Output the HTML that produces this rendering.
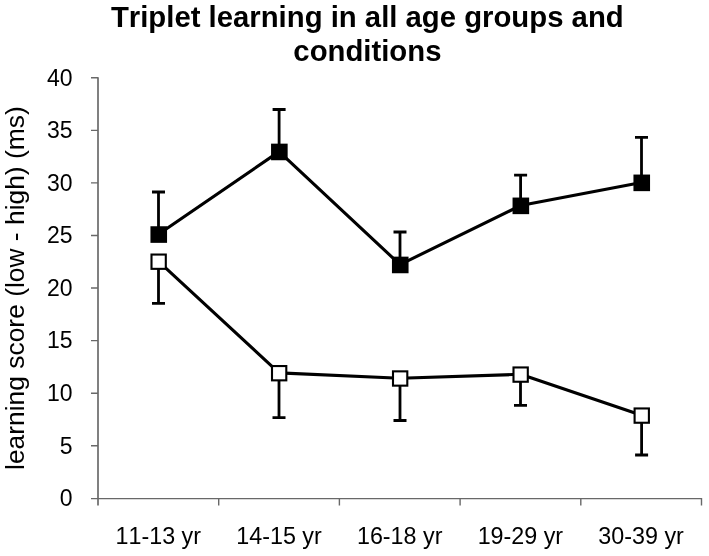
<!DOCTYPE html>
<html><head><meta charset="utf-8"><title>Triplet learning</title>
<style>
html,body{margin:0;padding:0;background:#fff;width:709px;height:556px;overflow:hidden}
svg{display:block;filter:blur(0.35px)}
text{font-family:"Liberation Sans",sans-serif;fill:#000;font-kerning:none}
.t{font-weight:bold;font-size:29.3px}
.yl{font-size:23px}
.xl{font-size:23.3px}
.ya{font-size:26.4px}
</style></head><body>
<svg width="709" height="556" viewBox="0 0 709 556">
<rect width="709" height="556" fill="#fff"/>
<!-- title -->
<text class="t" x="367.3" y="26.8" text-anchor="middle">Triplet learning in all age groups and</text>
<text class="t" x="367.4" y="60.6" text-anchor="middle">conditions</text>
<!-- y axis title -->
<text class="ya" transform="translate(24.3,288.1) rotate(-90)" text-anchor="middle">learning score (low - high) (ms)</text>
<!-- axes -->
<g fill="none">
<path stroke="#808080" stroke-width="2" d="M98,77.3 V505.5"/>
<g stroke="#686868" stroke-width="1.4">
<path d="M91,77.8 H98 M91,130.4 H98 M91,182.9 H98 M91,235.5 H98 M91,288 H98 M91,340.6 H98 M91,393.2 H98 M91,445.8 H98 M91,498.6 H98"/>
<path d="M98,498.6 H701.8 M701.5,498 V505.5"/>
<path d="M218.7,498.6 V505.5 M339.4,498.6 V505.5 M460.1,498.6 V505.5 M580.8,498.6 V505.5"/>
</g>
</g>
<!-- y labels -->
<g class="yl" text-anchor="end">
<text x="72.5" y="85.5">40</text>
<text x="72.5" y="138.1">35</text>
<text x="72.5" y="190.6">30</text>
<text x="72.5" y="243.2">25</text>
<text x="72.5" y="295.8">20</text>
<text x="72.5" y="348.3">15</text>
<text x="72.5" y="400.9">10</text>
<text x="72.5" y="453.5">5</text>
<text x="72.5" y="506.1">0</text>
</g>
<!-- x labels -->
<g class="xl" text-anchor="middle">
<text x="158.3" y="544.2">11-13 yr</text>
<text x="279" y="544.2">14-15 yr</text>
<text x="399.7" y="544.2">16-18 yr</text>
<text x="520.4" y="544.2">19-29 yr</text>
<text x="641.1" y="544.2">30-39 yr</text>
</g>
<!-- error bars -->
<g stroke="#000" stroke-width="2.8" fill="none">
<path d="M158.5,234.2 V192 M152,192 H165"/>
<path d="M279.1,151.6 V109.5 M272.6,109.5 H285.6"/>
<path d="M400,264.6 V232 M393.5,232 H406.5"/>
<path d="M520.6,205.5 V175.1 M514.1,175.1 H527.1"/>
<path d="M641.5,182.5 V137.3 M635,137.3 H648"/>
<path d="M158.5,261.4 V303.4 M152,303.4 H165"/>
<path d="M279,372.9 V417.6 M272.5,417.6 H285.5"/>
<path d="M400,378.2 V420.5 M393.5,420.5 H406.5"/>
<path d="M520.5,374.3 V405.3 M514,405.3 H527"/>
<path d="M641.6,415.3 V455 M635.1,455 H648.1"/>
</g>
<!-- lines -->
<g stroke="#000" stroke-width="3.1" fill="none" stroke-linejoin="round">
<polyline points="158.5,234.2 279.1,151.6 400,264.6 520.6,205.5 641.5,182.5"/>
<polyline points="158.5,261.4 279,372.9 400,378.2 520.5,374.3 641.6,415.3"/>
</g>
<!-- filled markers -->
<g fill="#000">
<rect x="150.45" y="226.25" width="16.6" height="16.6"/>
<rect x="271.05" y="143.65" width="16.6" height="16.6"/>
<rect x="391.95" y="256.65" width="16.6" height="16.6"/>
<rect x="512.55" y="197.55" width="16.6" height="16.6"/>
<rect x="633.45" y="174.55" width="16.6" height="16.6"/>
</g>
<!-- open markers -->
<g fill="#fff" stroke="#000" stroke-width="2.1">
<rect x="151.50" y="254.55" width="14.3" height="14.3"/>
<rect x="272.00" y="366.05" width="14.3" height="14.3"/>
<rect x="393.00" y="371.35" width="14.3" height="14.3"/>
<rect x="513.50" y="367.45" width="14.3" height="14.3"/>
<rect x="634.60" y="408.45" width="14.3" height="14.3"/>
</g>
</svg>
</body></html>
